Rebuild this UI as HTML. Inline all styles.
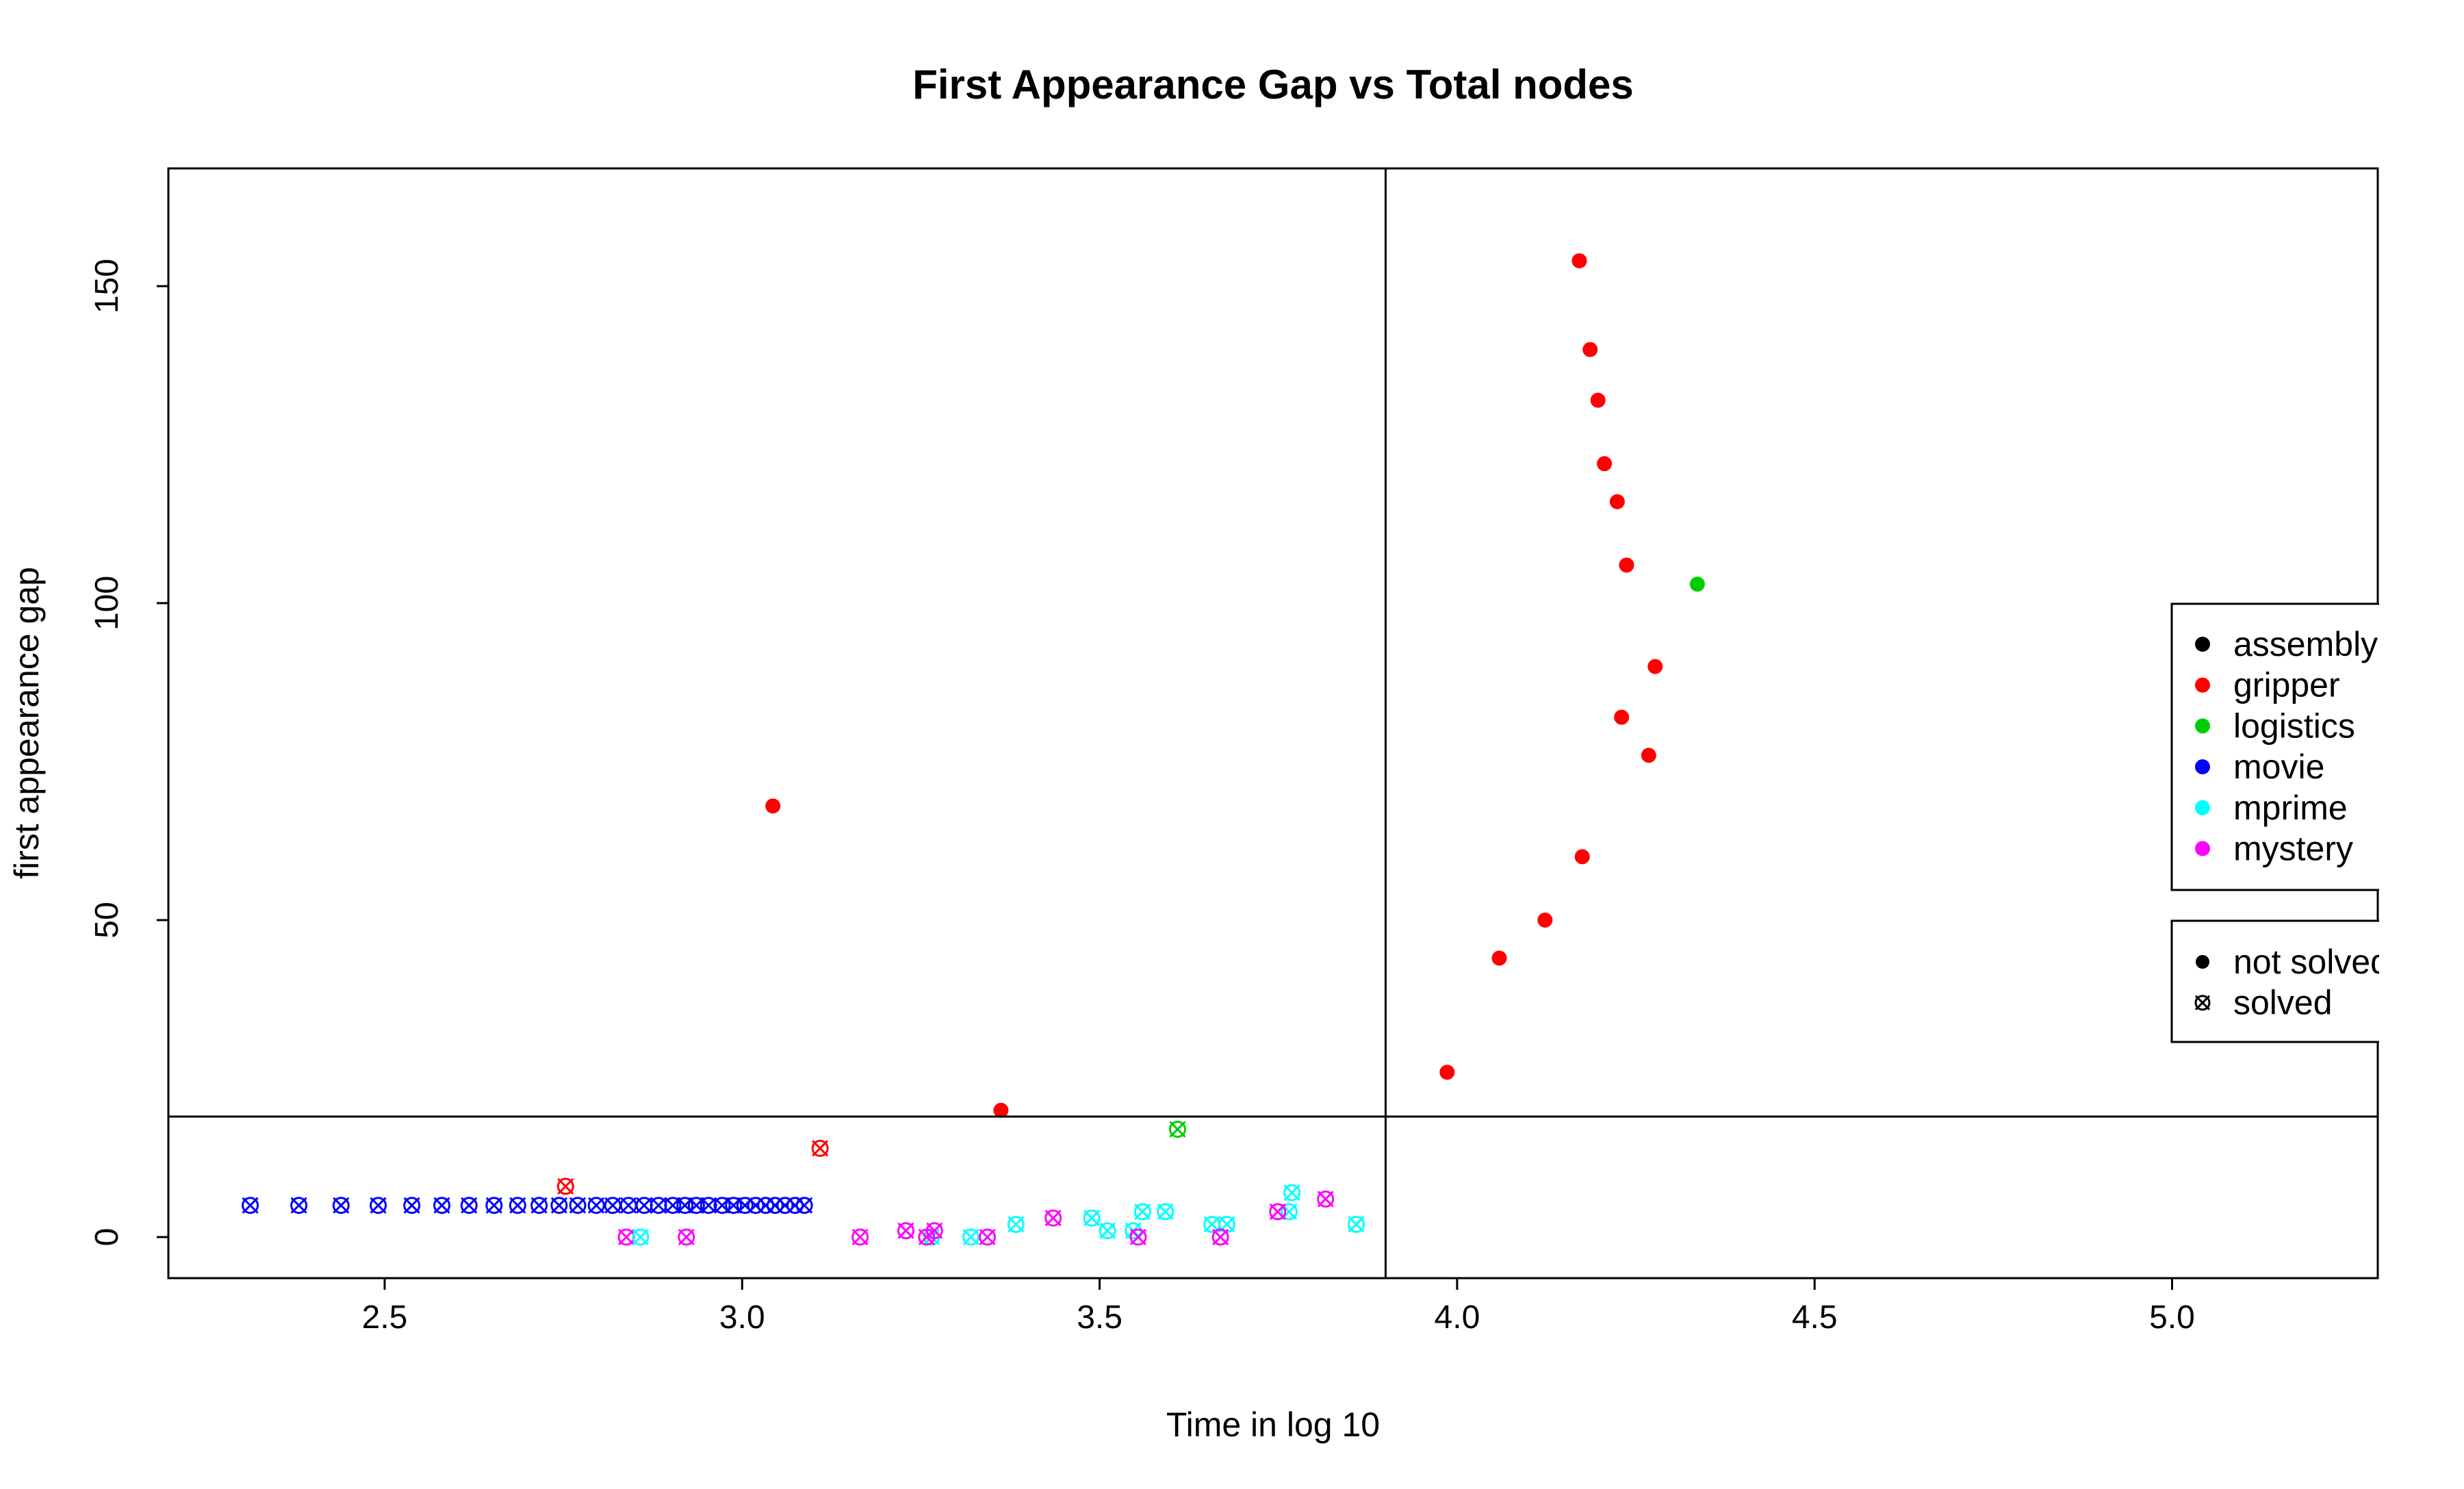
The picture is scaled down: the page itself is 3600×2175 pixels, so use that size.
<!DOCTYPE html>
<html><head><meta charset="utf-8"><style>
html,body{margin:0;padding:0;background:#fff;}
svg{display:block;font-family:"Liberation Sans",Arial,sans-serif;}
</style></head><body>
<svg id="chart" width="3600" height="2175" viewBox="0 0 3600 2175" xmlns="http://www.w3.org/2000/svg">
<rect width="3600" height="2175" fill="#fff"/>
<text x="1860" y="144" text-anchor="middle" font-size="60" font-weight="bold">First Appearance Gap vs Total nodes</text>
<text x="1860" y="2098" text-anchor="middle" font-size="50">Time in log 10</text>
<text x="0" y="0" transform="translate(56,1056) rotate(-90)" text-anchor="middle" font-size="50">first appearance gap</text>
<g id="marks"></g>
<g id="axes"></g>
<g id="legend"></g>
</svg>
<script>
const xTicks=[2.5,3.0,3.5,4.0,4.5,5.0];
const xTickLabels=["2.5","3.0","3.5","4.0","4.5","5.0"];
const yTicks=[0,50,100,150];
const yTickLabels=["0","50","100","150"];
const hLineValue=19;
const vLineValue=3.90;
const categories=["assembly","gripper","logistics","movie","mprime","mystery"];
const catColors=["#000000","#ff0000","#00cd00","#0000ff","#00ffff","#ff00ff"];
// unsolved points
const unsolvedCat=["gripper","gripper","gripper","gripper","gripper","gripper","gripper","gripper","gripper","gripper","gripper","gripper","gripper","gripper","gripper","logistics"];
const unsolvedX=[4.171,4.186,4.197,4.206,4.224,4.237,4.277,4.230,4.268,4.175,4.123,4.059,3.986,3.043,3.362,4.336];
const unsolvedY=[154,140,132,122,116,106,90,82,76,60,50,44,26,68,20,103];
// solved points
const solvedCat=["movie","movie","movie","movie","movie","movie","movie","movie","movie","movie","movie","movie","movie","movie","movie","movie","movie","movie","movie","movie","movie","movie","movie","movie","movie","movie","movie","movie","movie","movie",
"gripper","gripper","logistics",
"mystery","mprime","mystery","mystery","mystery","mprime","mystery","mprime","mystery","mprime","mystery","mprime","mprime","mprime","mystery","mprime","mprime","mprime","mprime","mystery","mystery","mprime","mprime","mystery","mystery","mprime"];
const solvedX=[2.312,2.380,2.439,2.491,2.538,2.580,2.618,2.653,2.686,2.716,2.744,2.770,2.796,2.819,2.841,2.863,2.883,2.903,2.920,2.936,2.953,2.972,2.988,3.004,3.019,3.033,3.046,3.060,3.074,3.087,
2.753,3.109,3.609,
2.838,2.858,2.922,3.165,3.229,3.265,3.258,3.320,3.269,3.383,3.343,3.489,3.511,3.547,3.435,3.560,3.592,3.657,3.678,3.554,3.669,3.765,3.769,3.749,3.816,3.859];
const solvedY=[5,5,5,5,5,5,5,5,5,5,5,5,5,5,5,5,5,5,5,5,5,5,5,5,5,5,5,5,5,5,
8,14,17,
0,0,0,0,1,0,0,0,1,2,0,3,1,1,3,4,4,2,2,0,0,4,7,4,6,2,0];
const typeLabels=["not solved","solved"];

const NS="http://www.w3.org/2000/svg";
const PL=246,PR=3474,PT=246,PB=1867;
function xs(v){return 562+(v-2.5)*1044.6;}
function ys(v){return 1807-v*9.26;}
function mk(tag,attrs,parent){const e=document.createElementNS(NS,tag);for(const k in attrs)e.setAttribute(k,attrs[k]);parent.appendChild(e);return e;}
function colorOf(c){return catColors[categories.indexOf(c)];}
const marks=document.getElementById('marks');
const axes=document.getElementById('axes');
const legend=document.getElementById('legend');

function solvedSym(cx,cy,col,parent,r){
  const g=mk('g',{},parent);
  mk('circle',{cx:cx,cy:cy,r:r,fill:'none',stroke:col,'stroke-width':3},g);
  mk('line',{x1:cx-r,y1:cy-r,x2:cx+r,y2:cy+r,stroke:col,'stroke-width':3},g);
  mk('line',{x1:cx-r,y1:cy+r,x2:cx+r,y2:cy-r,stroke:col,'stroke-width':3},g);
  return g;
}
let hl=mk('line',{x1:PL,x2:PR,y1:ys(hLineValue),y2:ys(hLineValue),stroke:'#000','stroke-width':3},axes);


let vl=mk('line',{x1:xs(vLineValue),x2:xs(vLineValue),y1:PT,y2:PB,stroke:'#000','stroke-width':3},axes);



for(let i=0;i<solvedX.length;i++){
  const g=solvedSym(xs(solvedX[i]),ys(solvedY[i]),colorOf(solvedCat[i]),marks,11);
  
  
}
for(let i=0;i<unsolvedX.length;i++){
  const c=mk('circle',{cx:xs(unsolvedX[i]),cy:ys(unsolvedY[i]),r:11,fill:colorOf(unsolvedCat[i])},marks);
  
  
}
let fr=mk('rect',{x:PL,y:PT,width:PR-PL,height:PB-PT,fill:'none',stroke:'#000','stroke-width':3},axes);


for(let i=0;i<xTicks.length;i++){
  const x=xs(xTicks[i]);
  mk('line',{x1:x,x2:x,y1:PB,y2:PB+17,stroke:'#000','stroke-width':3},axes);
  const t=mk('text',{x:x,y:1940,'text-anchor':'middle','font-size':48},axes);
  t.textContent=xTickLabels[i];
  
  
}
for(let i=0;i<yTicks.length;i++){
  const y=ys(yTicks[i]);
  mk('line',{x1:PL,x2:PL-17,y1:y,y2:y,stroke:'#000','stroke-width':3},axes);
  const t=mk('text',{x:0,y:0,transform:'translate(172,'+y+') rotate(-90)','text-anchor':'middle','font-size':48},axes);
  t.textContent=yTickLabels[i];
  
  
}
const clip=mk('clipPath',{id:'lc'},legend);
mk('rect',{x:0,y:0,width:PR+2,height:2175},clip);
const lg=mk('g',{'clip-path':'url(#lc)'},legend);
mk('rect',{x:3173,y:882,width:340,height:418,fill:'#fff',stroke:'#000','stroke-width':3},lg);
for(let i=0;i<categories.length;i++){
  const y=941+i*59.7;
  const e=mk('g',{},lg);
  
  
  mk('circle',{cx:3218,cy:y,r:11,fill:catColors[i]},e);
  const t=mk('text',{x:3263,y:y+17,'font-size':50},e);
  t.textContent=categories[i];
}
mk('rect',{x:3173,y:1345,width:340,height:177,fill:'#fff',stroke:'#000','stroke-width':3},lg);
for(let i=0;i<typeLabels.length;i++){
  const y=1405+i*59.7;
  const e=mk('g',{},lg);
  
  
  if(i==0) mk('circle',{cx:3218,cy:y,r:10,fill:'#000'},e);
  else solvedSym(3218,y,'#000',e,10);
  const t=mk('text',{x:3263,y:y+17,'font-size':50},e);
  t.textContent=typeLabels[i];
}
</script>
</body></html>
